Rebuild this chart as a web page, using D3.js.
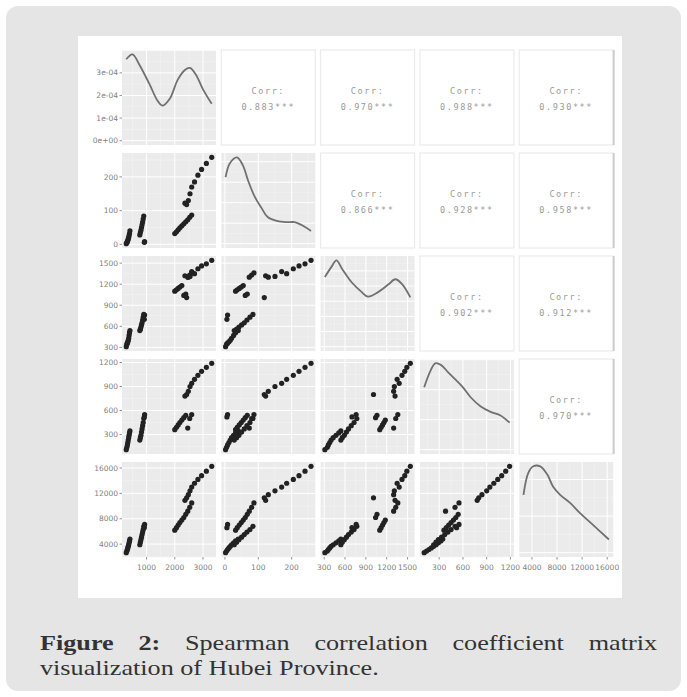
<!DOCTYPE html>
<html><head><meta charset="utf-8">
<script src="https://cdn.jsdelivr.net/npm/d3@7"></script>
<style>
html,body{margin:0;padding:0;background:#fff;}
svg{display:block;}
</style></head>
<body>
<svg id="chart" width="687" height="697"></svg>
<script>
// ---------------- data ----------------
const var1 = [280,300,320,335,350,365,380,395,410, 760,780,800,820,840,860,880,900,920,930, 2000,2060,2120,2180,2250,2320,2390,2460,2530,2600, 2360,2420,2480,2540,2600,2700,2820,2950,3120,3310];
const var2 = [2,5,8,12,16,20,26,32,40, 28,35,42,50,58,66,75,84,6,8, 32,37,43,49,55,61,67,73,80,87, 122,118,130,150,170,185,205,222,240,258];
const var3 = [310,345,360,380,400,430,470,510,540, 540,560,590,620,650,690,730,770,700,760, 1100,1120,1140,1160,1180,1040,1060,1300,1330,1360, 1320,1010,1300,1310,1380,1350,1420,1460,1490,1540];
const var4 = [110,140,170,200,230,260,290,320,345, 230,260,290,330,370,410,450,500,520,550, 360,390,420,450,480,510,540,380,500,550, 780,800,840,900,940,990,1040,1090,1140,1190];
const var5 = [2650,2900,3150,3400,3650,3900,4200,4500,4800, 3900,4300,4700,5100,5500,5900,6300,6800,6600,7100, 6200,6600,7000,7400,7800,8200,8700,9200,9800,10500, 10900,11300,11800,12400,13000,13600,14200,14800,15500,16270];

// density curves on the diagonal (x in variable units, y = density)
const dens1x = [280,500,750,1107,1393,1571,1821,2107,2357,2536,2750,3000,3310];
const dens1y = [3.60,3.82,3.35,2.49,1.76,1.55,1.85,2.70,3.13,3.22,2.92,2.27,1.63].map(v=>v*1e-4);
const dens2x = [2,15,36,54,69,90,110,128,158,185,209,230,258];
const dens2y = [6.5,7.85,8.43,7.65,6.2,4.54,3.47,2.6,2.2,2.1,2.1,1.82,1.24].map(v=>v*1e-3);
const dens3x = [310,402,476,563,695,841,929,1076,1222,1324,1427,1540];
const dens3y = [0.92,1.05,1.14,1.02,0.85,0.72,0.66,0.72,0.82,0.89,0.82,0.65].map(v=>v*1e-3);
const dens4x = [110,188,250,325,413,513,600,700,825,950,1075,1190];
const dens4y = [1.04,1.31,1.44,1.41,1.29,1.16,1.04,0.87,0.72,0.63,0.57,0.45].map(v=>v*1e-3);
const dens5x = [2650,3420,4210,5320,6430,7385,8495,10080,11670,13730,16270];
const dens5y = [0.79,1.09,1.18,1.18,1.07,0.90,0.79,0.68,0.54,0.38,0.18].map(v=>v*1e-4);

// axis tick labels
const ticks1 = [1000,2000,3000];
const ticks2 = [0,100,200];
const ticks3 = [300,600,900,1200,1500];
const ticks4 = [300,600,900,1200];
const ticks5 = [4000,8000,12000,16000];
const densTicks = [0,1e-4,2e-4,3e-4];
const densTickLabels = ["0e+00","1e-04","2e-04","3e-04"];

// correlation labels for the upper triangle (row, col, text)
const corrRows = [0,0,0,0,1,1,1,2,2,3];
const corrCols = [1,2,3,4,2,3,4,3,4,4];
const corrText = ["0.883***","0.970***","0.988***","0.930***","0.866***","0.928***","0.958***","0.902***","0.912***","0.970***"];

const captionBold = "Figure 2:";
const captionLine1 = "Spearman correlation coefficient matrix";
const captionLine2 = "visualization of Hubei Province.";

// ---------------- assembling ----------------
const vars = [var1,var2,var3,var4,var5];
const densX = [dens1x,dens2x,dens3x,dens4x,dens5x];
const densY = [dens1y,dens2y,dens3y,dens4y,dens5y];
const ticks = [ticks1,ticks2,ticks3,ticks4,ticks5];

const colX0 = 122, colStep = 99.3, W = 94;
const rowY0 = 50, rowStep = 103, H = 95;

function expand(ext){ const r = ext[1]-ext[0]; return [ext[0]-0.05*r, ext[1]+0.05*r]; }

const xScales = vars.map((v,j)=> d3.scaleLinear().domain(expand(d3.extent(v))).range([colX0+j*colStep, colX0+j*colStep+W]));
const yScales = vars.map((v,i)=> d3.scaleLinear().domain(expand(d3.extent(v))).range([rowY0+i*rowStep+H, rowY0+i*rowStep]));
const dScales = densY.map((d,i)=> d3.scaleLinear().domain(expand([0, d3.max(d)])).range([rowY0+i*rowStep+H, rowY0+i*rowStep]));

function minorBreaks(br, dom){
  const step = br[1]-br[0]; const out=[];
  for(let v=br[0]-step/2; v<=dom[1]; v+=step){ if(v>=dom[0]) out.push(v); }
  return out;
}

const svg = d3.select("#chart");
svg.append("rect").attr("x",6).attr("y",6).attr("width",675).attr("height",685).attr("rx",12).attr("fill","#e5e5e5");
svg.append("rect").attr("x",78).attr("y",36).attr("width",544).attr("height",562).attr("fill","#ffffff");

const panelBg = "#ebebeb";

for(let i=0;i<5;i++){
  for(let j=0;j<5;j++){
    const x0 = colX0+j*colStep, y0 = rowY0+i*rowStep;
    const g = svg.append("g");
    if(i<j){
      g.append("rect").attr("x",x0).attr("y",y0).attr("width",W).attr("height",H)
        .attr("fill","#fff").attr("stroke","#ebebeb").attr("stroke-width",1.2);
      continue;
    }
    g.append("rect").attr("x",x0).attr("y",y0).attr("width",W).attr("height",H).attr("fill",panelBg);
    const xs = xScales[j];
    const ys = (i===j) ? dScales[i] : yScales[i];
    const xMaj = ticks[j], xMin = minorBreaks(ticks[j], xs.domain());
    let yMaj, yMin;
    if(i===j){ yMaj = ys.ticks(4); yMin = minorBreaks(yMaj, ys.domain()); }
    else { yMaj = ticks[i]; yMin = minorBreaks(ticks[i], ys.domain()); }
    const inX = v => xs(v)>=x0 && xs(v)<=x0+W;
    const inY = v => ys(v)>=y0 && ys(v)<=y0+H;
    xMin.filter(inX).forEach(v=> g.append("line").attr("x1",xs(v)).attr("x2",xs(v)).attr("y1",y0).attr("y2",y0+H).attr("stroke","#f5f5f5").attr("stroke-width",0.5));
    yMin.filter(inY).forEach(v=> g.append("line").attr("y1",ys(v)).attr("y2",ys(v)).attr("x1",x0).attr("x2",x0+W).attr("stroke","#f5f5f5").attr("stroke-width",0.5));
    xMaj.filter(inX).forEach(v=> g.append("line").attr("x1",xs(v)).attr("x2",xs(v)).attr("y1",y0).attr("y2",y0+H).attr("stroke","#ffffff").attr("stroke-width",1));
    yMaj.filter(inY).forEach(v=> g.append("line").attr("y1",ys(v)).attr("y2",ys(v)).attr("x1",x0).attr("x2",x0+W).attr("stroke","#ffffff").attr("stroke-width",1));
    if(i===j){
      const pts = densX[i].map((x,k)=>[x, densY[i][k]]);
      g.append("path").datum(pts)
        .attr("d", d3.line().x(d=>xs(d[0])).y(d=>ys(d[1])).curve(d3.curveCatmullRom.alpha(0.5)))
        .attr("fill","none").attr("stroke","#707070").attr("stroke-width",1.8);
    } else {
      g.selectAll("circle").data(vars[j].map((x,k)=>[x, vars[i][k]])).join("circle")
        .attr("cx",d=>xs(d[0])).attr("cy",d=>ys(d[1])).attr("r",2.6)
        .attr("fill","#222");
    }
  }
}

// right edge bars of the upper panels
for(let i=0;i<4;i++){
  const y0 = rowY0+i*rowStep;
  svg.append("line").attr("x1",colX0+4*colStep+W+0.5).attr("x2",colX0+4*colStep+W+0.5)
    .attr("y1",y0).attr("y2",y0+H).attr("stroke","#cdcdcd").attr("stroke-width",2);
}

// correlation text
corrText.forEach((t,k)=>{
  const i = corrRows[k], j = corrCols[k];
  const cx = colX0+j*colStep+W/2, cy = rowY0+i*rowStep+H/2;
  svg.append("text").attr("x",cx).attr("y",cy-4).attr("text-anchor","middle")
    .attr("font-family","DejaVu Sans Mono").attr("font-size",8.5).attr("letter-spacing",1.6)
    .attr("fill","#9a9a9a").text("Corr:");
  svg.append("text").attr("x",cx).attr("y",cy+12).attr("text-anchor","middle")
    .attr("font-family","DejaVu Sans Mono").attr("font-size",8.5).attr("letter-spacing",1.6)
    .attr("fill","#9a9a9a").text(t);
});

// axes
const tickCol = "#666", labCol = "#808080", fs = 7.5;
const fmt = d3.format("d");
// left axes
for(let i=0;i<5;i++){
  const ys = (i===0) ? dScales[0] : yScales[i];
  const br = (i===0) ? densTicks : ticks[i];
  const labs = (i===0) ? densTickLabels : ticks[i].map(fmt);
  br.forEach((v,k)=>{
    const y = ys(v);
    svg.append("line").attr("x1",colX0-2.5).attr("x2",colX0).attr("y1",y).attr("y2",y).attr("stroke",tickCol).attr("stroke-width",0.7);
    svg.append("text").attr("x",colX0-4).attr("y",y).attr("dy","0.35em").attr("text-anchor","end")
      .attr("font-family","DejaVu Sans").attr("font-size",fs).attr("fill",labCol).text(labs[k]);
  });
}
// bottom axes
const yB = rowY0+4*rowStep+H;
for(let j=0;j<5;j++){
  const xs = xScales[j];
  ticks[j].forEach(v=>{
    const x = xs(v);
    svg.append("line").attr("x1",x).attr("x2",x).attr("y1",yB).attr("y2",yB+2.5).attr("stroke",tickCol).attr("stroke-width",0.7);
    svg.append("text").attr("x",x).attr("y",yB+13).attr("text-anchor","middle")
      .attr("font-family","DejaVu Sans").attr("font-size",fs).attr("fill",labCol).text(fmt(v));
  });
}

// caption (serif, widened horizontally to match the original typeface's width)
const capSize = 22, sx = 1.19, left = 40, right = 657;
const cap = svg.append("g").attr("transform",`translate(${left},0) scale(${sx},1)`)
  .attr("font-family","Liberation Serif").attr("font-size",capSize).attr("fill","#333");
const words1 = captionBold.split(" ").concat(captionLine1.split(" "));
const wNodes = words1.map((w,k)=> cap.append("text").attr("y",650).attr("font-weight", k<2 ? "bold":"normal").text(w));
const widths = wNodes.map(n=>n.node().getComputedTextLength());
const span = (right-left)/sx;
const gap = (span-d3.sum(widths))/(words1.length-1);
let xc = 0;
wNodes.forEach((n,k)=>{ n.attr("x",xc); xc += widths[k]+gap; });
cap.append("text").attr("x",0).attr("y",675).text(captionLine2);
</script>
</body></html>
